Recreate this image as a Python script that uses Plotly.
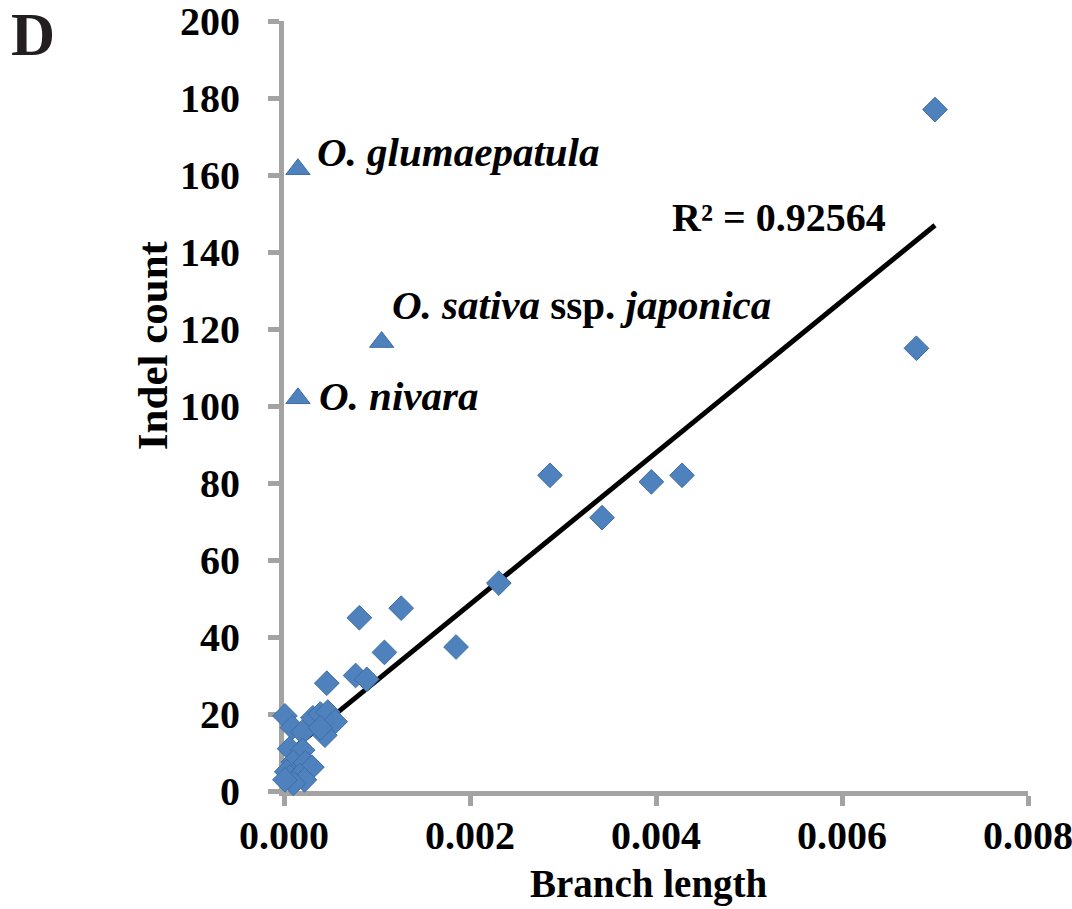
import numpy as np
import plotly.graph_objects as go

# Diamonds: branch length vs indel count
diamond_x = [0.00001, 0.00009, 0.00020, 0.00031, 0.00039, 0.00047, 0.00055, 0.00044,
             0.00039, 0.00006, 0.00020, 0.00010, 0.00023, 0.00030, 0.00003, 0.00006,
             0.00017, 0.00022, 0.00010, 0.00001, 0.00046, 0.00077, 0.00089, 0.00081,
             0.00108, 0.00126, 0.00185, 0.00231, 0.00286, 0.00342, 0.00395, 0.00428,
             0.00680, 0.00700]
diamond_y = [19.5, 16.5, 15.3, 19.0, 20.0, 20.5, 18.0, 14.5,
             16.4, 11.0, 10.6, 7.5, 7.3, 6.2, 5.0, 3.6,
             4.0, 2.9, 2.0, 2.9, 28.0, 30.0, 29.0, 45.0,
             36.0, 47.5, 37.4, 54.0, 82.0, 71.0, 80.3, 82.0,
             115.0, 177.0]

# Labelled outliers (triangles)
tri_names = ["<b><i>O. glumaepatula</i></b>",
             "<b><i>O. sativa</i> ssp. <i>japonica</i></b>",
             "<b><i>O. nivara</i></b>"]
tri_x = [0.00015, 0.00105, 0.00015]
tri_y = [161.5, 116.6, 102.0]

r2_label = "<b>R² = 0.92564</b>"

x_ticks = [0.000, 0.002, 0.004, 0.006, 0.008]
y_ticks = [0, 20, 40, 60, 80, 100, 120, 140, 160, 180, 200]

FONT = "Liberation Serif, Times New Roman, serif"
AXIS_GRAY = "#A3A3A3"
BLUE = "#4F81BD"

# linear trend through diamonds
slope, intercept = np.polyfit(diamond_x, diamond_y, 1)
fit_x = np.array([min(diamond_x), max(diamond_x)])
fit_y = slope * fit_x + intercept

fig = go.Figure()
fig.add_trace(go.Scatter(
    x=fit_x, y=fit_y, mode="lines",
    line=dict(color="black", width=5), cliponaxis=False, showlegend=False))
fig.add_trace(go.Scatter(
    x=diamond_x, y=diamond_y, mode="markers",
    marker=dict(symbol="diamond", size=19, color=BLUE,
                line=dict(color="#3C6EA8", width=1)),
    cliponaxis=False, showlegend=False))
fig.add_trace(go.Scatter(
    x=tri_x, y=tri_y, mode="markers",
    marker=dict(symbol="triangle-up", size=21, color=BLUE,
                line=dict(color="#3C6EA8", width=1)),
    cliponaxis=False, showlegend=False))

# text label positions (data coordinates, left anchored)
label_pos = [(0.00033, 165.9), (0.00114, 126.3), (0.000355, 102.6)]
annotations = []
for name, (lx, ly) in zip(tri_names, label_pos):
    annotations.append(dict(x=lx, y=ly, xref="x", yref="y", text=name,
                            showarrow=False, xanchor="left", yanchor="middle",
                            font=dict(family=FONT, size=41, color="black")))
annotations.append(dict(x=0.00415, y=149.0, xref="x", yref="y", text=r2_label,
                        showarrow=False, xanchor="left", yanchor="middle",
                        font=dict(family=FONT, size=40, color="black")))
# panel letter and axis titles
annotations.append(dict(x=-0.3374, y=0.982, xref="paper", yref="paper", text="<b>D</b>",
                        showarrow=False, xanchor="center", yanchor="middle",
                        font=dict(family=FONT, size=61, color="#231F20")))
annotations.append(dict(x=-0.1774, y=0.579, xref="paper", yref="paper",
                        text="<b>Indel count</b>", textangle=-90,
                        showarrow=False, xanchor="center", yanchor="middle",
                        font=dict(family=FONT, size=43, color="black")))
annotations.append(dict(x=0.4906, y=-0.121, xref="paper", yref="paper",
                        text="<b>Branch length</b>",
                        showarrow=False, xanchor="center", yanchor="middle",
                        font=dict(family=FONT, size=39, color="black")))

fig.update_layout(
    width=1072, height=909,
    margin=dict(l=284, r=44, t=21, b=118),
    paper_bgcolor="white", plot_bgcolor="white",
    font=dict(family=FONT, color="black"),
    annotations=annotations,
    xaxis=dict(range=[0, 0.008], tickvals=x_ticks, tickformat=".3f",
               automargin=False, ticklabeloverflow="allow",
               showgrid=False, zeroline=False, showline=True,
               linecolor=AXIS_GRAY, linewidth=5,
               ticks="outside", ticklen=10, tickwidth=5, tickcolor=AXIS_GRAY,
               tickfont=dict(family=FONT, size=40, color="black", weight="bold"),
               ticklabelstandoff=-5,
               layer="below traces"),
    yaxis=dict(range=[0, 200], tickvals=y_ticks,
               automargin=False, ticklabeloverflow="allow",
               showgrid=False, zeroline=False, showline=True,
               linecolor=AXIS_GRAY, linewidth=5,
               ticks="outside", ticklen=11, tickwidth=5, tickcolor=AXIS_GRAY,
               tickfont=dict(family=FONT, size=40, color="black", weight="bold"),
               ticklabelstandoff=20,
               layer="below traces"),
)

fig.write_html("out.html",
               config={"displayModeBar": False, "staticPlot": True},
               post_script="document.body.style.margin='0';document.body.style.overflow='hidden';")
